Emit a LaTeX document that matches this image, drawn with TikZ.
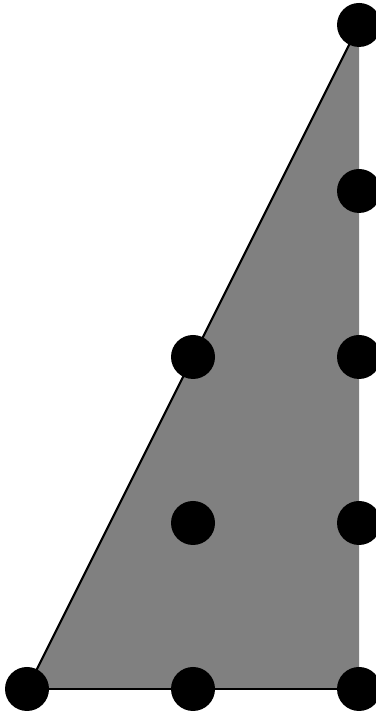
\documentclass[tikz,border=0pt]{standalone}
\usepackage{tikz}
\usetikzlibrary{calc}

\tikzset{
    punto/.style={circle, fill=black, inner sep=0pt, minimum size=0.265cm},
}

\begin{document}
\begin{tikzpicture}
    % Fijar los límites del gráfico
    \useasboundingbox (-0.1627,-0.1386) rectangle (2.0964,4.1506);

    % Definir los vértices del triángulo
    \coordinate (A) at (0,0);
    \coordinate (B) at (2,0);
    \coordinate (C) at (2,4);

    % Rellenar el triángulo
    \fill[gray] (A) -- (B) -- (C) -- cycle;

    % Dibujar la hipotenusa y la base
    \draw[line width=0.35pt] (A) -- (C);
    \draw[line width=0.35pt] (A) -- (B);

    % Dibujar los puntos de la red
    \node[punto] (p00) at (0,0) {};
    \node[punto] (p10) at (1,0) {};
    \node[punto] (p20) at (2,0) {};
    \node[punto] (p11) at (1,1) {};
    \node[punto] (p21) at (2,1) {};
    \node[punto] (p12) at (1,2) {};
    \node[punto] (p22) at (2,2) {};
    \node[punto] (p23) at (2,3) {};
    \node[punto] (p24) at (2,4) {};

\end{tikzpicture}
\end{document}
